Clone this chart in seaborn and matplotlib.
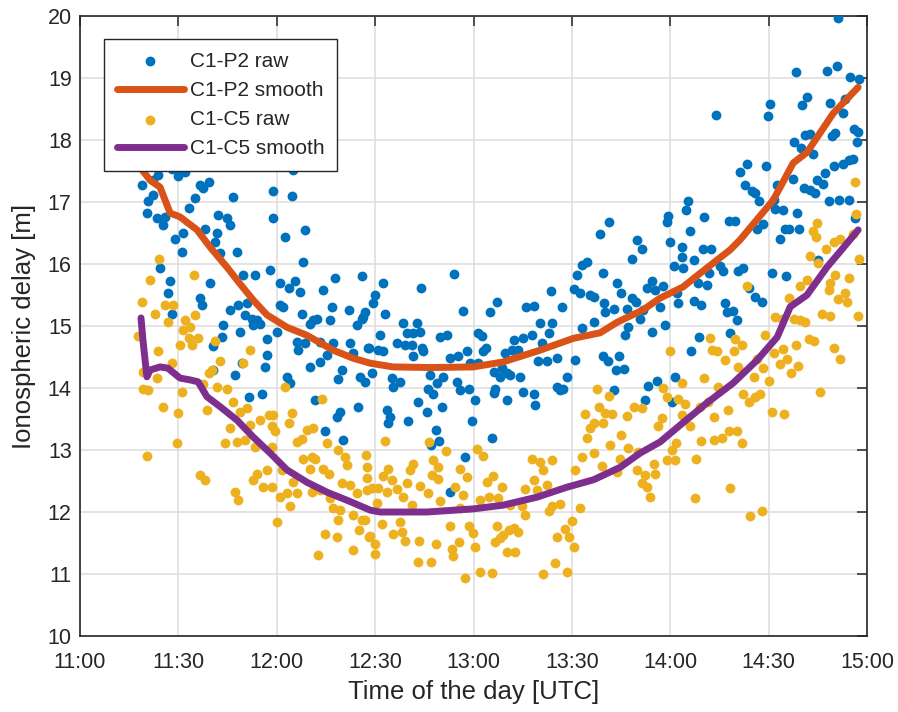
import numpy as np
import pandas as pd
import matplotlib
matplotlib.use("Agg")
import matplotlib.pyplot as plt
import seaborn as sns

# time in minutes after 11:00 UTC, delay in metres

# C1-P2 raw
p2_raw_t = [28.0, 32.0, 30.0, 23.9, 22.4, 18.8, 36.6, 39.2, 37.6, 65.1,
            59.0, 64.6, 46.8, 35.1, 22.4, 20.8, 20.3, 23.4, 25.9, 25.4,
            33.1, 42.2, 44.7, 45.8, 59.0, 68.6, 62.5, 38.1, 31.5, 29.0,
            31.0, 41.7, 41.2, 42.7, 47.8, 68.1, 58.0, 24.4, 27.5, 26.9,
            39.7, 49.8, 53.4, 61.0, 63.6, 65.6, 67.1, 74.2, 77.8, 36.6,
            28.0, 37.1, 45.8, 48.3, 50.8, 50.3, 52.4, 53.9, 54.9, 52.9,
            43.7, 43.2, 40.7, 48.8, 56.9, 60.0, 61.0, 62.0, 67.6, 71.2,
            70.2, 72.2, 76.3, 76.8, 81.9, 84.4, 86.4, 66.1, 66.6, 68.6,
            73.2, 77.3, 82.4, 83.4, 88.0, 56.9, 56.4, 70.2, 73.2, 75.3,
            79.8, 78.8, 85.4, 87.0, 40.7, 47.3, 49.3, 63.0, 64.1, 51.4,
            55.4, 71.7, 78.3, 79.3, 74.7, 80.3, 84.7,
            85.9, 92.5, 90.0, 89.5, 86.9, 85.9, 93.0, 104.0, 114.1, 98.6,
            102.7, 99.6, 101.7, 103.7, 91.5, 96.6, 99.1, 101.2, 87.9, 91.0,
            92.5, 104.2, 104.7, 101.7, 109.8, 111.8, 116.9, 112.7, 115.4, 117.9,
            121.5, 122.5, 123.8, 123.0, 125.1, 127.1, 119.0, 121.5, 129.6, 131.7,
            132.2, 135.2, 133.7, 136.0, 138.3, 137.8, 140.3, 140.8, 142.9, 143.9,
            143.6, 146.9, 139.8, 142.4, 145.4, 151.0, 150.5, 151.5, 153.0, 154.6,
            152.5, 155.6, 156.6, 153.0, 156.6, 89.0, 95.0, 95.6, 97.6, 106.8,
            108.8, 110.8, 106.2, 107.8, 114.9, 115.9, 118.5, 126.1, 128.1, 130.2,
            128.6, 131.2, 134.2, 126.6, 126.1, 120.5, 130.2, 135.2, 138.3, 138.8,
            145.4, 146.4, 147.4, 148.5, 103.2, 105.7, 110.3, 93.5, 94.6, 94.0,
            100.1, 108.6, 119.5, 109.6, 107.1, 125.6, 117.4, 112.9,
            231.3, 218.3, 227.8, 230.8, 234.7, 237.7, 193.9, 210.3, 209.9, 220.3,
            221.7, 228.8, 232.6, 233.4, 217.8, 219.9, 221.1, 222.5, 223.4, 229.3,
            230.3, 235.9, 237.4, 236.9, 232.8, 234.4, 235.6, 229.8, 227.3, 224.7,
            226.7, 220.8, 222.7, 224.2, 217.4, 201.3, 203.3, 209.2, 202.8, 204.9,
            205.9, 207.2, 212.5, 211.5, 212.0, 214.3, 218.8, 228.4, 231.6, 234.4,
            236.4, 185.3, 184.8, 179.4, 178.9, 185.9, 190.4, 197.8, 199.8, 206.4,
            208.4, 213.5, 215.0, 216.1, 219.4, 161.4, 158.6, 179.9, 169.8, 171.4,
            183.5, 189.9, 192.5,
            168.3, 183.5, 181.0, 184.0, 187.1, 191.7, 195.2, 196.2, 188.6, 191.1,
            200.8, 202.3, 211.0, 215.3, 225.2, 159.6, 163.9, 164.9, 174.4, 172.8,
            175.4, 177.9, 168.3, 169.6, 159.8, 160.1, 162.7, 166.9, 171.8, 176.9,
            182.0, 182.5, 187.3, 189.3, 196.7, 197.4, 199.1, 200.3, 203.9, 205.9,
            207.9, 170.8, 178.4, 167.2, 166.2, 174.4, 188.8, 198.3, 186.3, 159.4,
            161.1, 164.5, 163.5, 165.9, 181.5, 175.9, 173.3, 162.9, 172.3, 180.5]
p2_raw_v = [17.54, 17.49, 17.42, 17.44, 17.35, 17.27, 17.27, 17.33, 17.22, 17.52,
            17.17, 17.09, 17.08, 17.06, 17.11, 17.01, 16.82, 16.74, 16.76, 16.63,
            16.90, 16.79, 16.74, 16.63, 16.74, 16.55, 16.44, 16.57, 16.50, 16.41,
            16.20, 16.50, 16.36, 16.17, 16.20, 16.04, 15.90, 15.93, 15.72, 15.53,
            15.69, 15.82, 15.82, 15.69, 15.61, 15.72, 15.55, 15.58, 15.77, 15.45,
            15.20, 15.34, 15.26, 15.34, 15.37, 15.18, 15.12, 15.10, 15.04, 15.02,
            15.02, 14.83, 14.67, 14.90, 14.79, 14.91, 15.34, 15.31, 15.20, 15.10,
            15.04, 15.12, 15.10, 15.31, 15.26, 15.02, 15.15, 14.75, 14.61, 14.72,
            14.75, 14.73, 14.72, 14.56, 14.64, 14.53, 14.34, 14.34, 14.42, 14.53,
            14.29, 14.15, 14.18, 14.10, 14.29, 14.21, 14.40, 14.18, 14.08, 13.86,
            13.91, 13.81, 13.54, 13.62, 13.30, 13.16, 13.70,
            15.80, 15.70, 15.50, 15.37, 15.23, 15.12, 15.19, 15.61, 15.84, 15.05,
            15.05, 14.88, 14.89, 14.91, 14.86, 14.73, 14.69, 14.69, 14.64, 14.61,
            14.59, 14.64, 14.59, 14.52, 14.83, 14.86, 15.24, 14.48, 14.52, 14.60,
            14.88, 14.84, 14.64, 14.59, 15.23, 15.39, 14.41, 14.40, 14.56, 14.62,
            14.77, 14.80, 14.61, 15.31, 15.32, 14.86, 15.05, 14.72, 14.88, 15.05,
            15.56, 15.31, 14.43, 14.43, 14.48, 14.45, 15.59, 15.82, 15.98, 16.04,
            15.53, 15.50, 15.47, 14.96, 15.07, 14.24, 14.16, 14.02, 14.10, 14.21,
            14.08, 14.18, 13.99, 13.91, 14.10, 13.97, 13.98, 14.26, 14.18, 14.25,
            14.32, 14.21, 14.17, 13.98, 13.92, 13.81, 13.81, 13.94, 13.90, 13.73,
            14.02, 13.97, 13.99, 14.18, 13.78, 13.61, 13.70, 13.64, 13.54, 13.43,
            13.46, 13.33, 13.46, 13.15, 13.08, 13.20, 12.88, 12.33,
            19.96, 19.10, 19.12, 19.20, 19.01, 18.98, 18.40, 18.58, 18.39, 18.56,
            18.69, 18.60, 18.44, 18.66, 17.96, 17.87, 18.08, 18.09, 17.77, 18.06,
            18.11, 18.18, 18.13, 17.96, 17.62, 17.68, 17.70, 17.58, 17.47, 17.35,
            17.29, 17.23, 17.19, 17.14, 17.37, 17.49, 17.61, 17.58, 17.27, 17.18,
            17.14, 17.01, 17.27, 17.03, 16.88, 16.87, 16.83, 17.02, 17.03, 17.04,
            16.75, 17.02, 16.87, 16.77, 16.68, 16.54, 16.76, 16.70, 16.69, 16.56,
            16.65, 16.40, 16.56, 16.57, 16.56, 16.67, 16.49, 16.35, 16.38, 16.25,
            16.27, 16.24, 16.25,
            16.08, 16.12, 15.97, 15.93, 16.06, 15.85, 15.96, 15.88, 15.69, 15.66,
            15.89, 15.93, 15.86, 15.81, 16.06, 15.85, 15.69, 15.53, 15.72, 15.61,
            15.58, 15.64, 15.45, 15.39, 15.37, 15.23, 15.27, 15.28, 15.26, 15.31,
            15.53, 15.37, 15.41, 15.34, 15.37, 15.22, 15.25, 15.09, 15.62, 15.47,
            15.38, 15.11, 15.02, 14.98, 14.86, 14.91, 14.83, 14.89, 14.59, 14.51,
            14.43, 14.51, 14.29, 14.30, 14.18, 14.11, 14.03, 13.97, 13.80, 13.78]

# C1-P2 smooth
p2_smooth_t = [18.3, 21.4, 24.4, 27.5, 30.5, 35.7, 39.7, 44.8, 48.8, 52.8,
               57.0, 63.1, 69.2, 77.2, 83.3, 88.5, 95.5, 106.8, 119.9, 129.0,
               140.3, 150.4, 158.6, 163.8, 171.7, 176.9, 183.9, 189.1, 198.3, 201.3,
               211.4, 217.5, 221.7, 229.7, 237.3]
p2_smooth_v = [17.56, 17.35, 17.24, 16.82, 16.76, 16.55, 16.27, 15.95, 15.68, 15.42,
               15.18, 14.98, 14.85, 14.61, 14.48, 14.40, 14.34, 14.33, 14.34, 14.42,
               14.61, 14.80, 14.89, 15.06, 15.26, 15.45, 15.63, 15.85, 16.23, 16.39,
               17.03, 17.63, 17.80, 18.43, 18.85]

# C1-C5 raw
c5_raw_t = [24.2, 21.4, 34.8,
            18.8, 25.9, 28.5, 22.9, 26.9, 32.0, 35.1, 33.6, 31.5, 17.8,
            30.5, 33.1, 36.1, 34.1, 23.9, 41.2, 51.9, 42.7, 40.2, 39.2,
            28.0, 49.8, 19.3, 23.4, 19.3, 20.8, 37.6, 41.7, 44.7, 31.0,
            25.4, 30.0, 38.6, 46.8, 50.8, 48.8, 62.5, 73.7, 57.5, 59.0,
            64.6, 63.6, 45.8, 51.9, 54.9, 58.5, 59.5, 69.2, 71.2, 44.2,
            47.8, 50.3, 53.4, 58.5, 66.1, 67.6, 75.3, 78.8, 29.5, 20.3,
            36.6, 38.1, 52.9, 53.9, 56.9, 55.9, 58.5, 61.5, 65.1, 68.1,
            70.7, 71.7, 70.2, 74.2, 75.8, 79.8, 80.8, 81.3, 82.4, 87.5,
            87.5, 84.4, 70.7, 73.2, 47.3, 48.3, 61.0, 63.0, 66.1, 64.1,
            76.3, 77.3, 79.3, 78.8, 83.4, 86.9, 88.0, 85.2, 60.0, 74.7,
            78.3, 83.2, 72.7,
            93.0, 106.5, 87.2, 111.6, 121.0, 123.0, 94.0, 101.7, 100.7, 107.8,
            109.3, 115.9, 87.4, 92.5, 95.0, 107.3, 109.3, 117.9, 125.9, 124.0,
            137.8, 140.3, 143.9, 141.3, 89.0, 91.0, 93.5, 96.6, 99.6, 103.7,
            106.2, 98.6, 90.5, 114.4, 116.9, 122.0, 124.6, 127.6, 128.6, 135.7,
            138.3, 139.3, 142.4, 109.8, 101.2, 115.9, 131.2, 134.7, 135.7, 142.9,
            143.9, 146.4, 152.5, 150.0, 85.9, 92.0, 97.6, 95.6, 98.1, 88.4,
            90.0, 90.0, 99.1, 103.5, 108.6, 112.7, 118.5, 119.8, 120.5, 115.7,
            127.1, 129.1, 130.7, 132.2, 133.7, 126.6, 128.1, 130.2, 132.7, 113.4,
            113.7, 103.2, 106.9, 145.4, 149.0, 148.0, 150.5, 144.9, 148.5, 141.3,
            122.0, 125.6, 117.4, 151.0, 153.0, 156.6, 157.6, 154.0, 158.4, 156.6,
            155.6, 154.6,
            236.2, 236.7, 224.7, 223.4, 224.5, 235.7, 231.8, 229.8, 227.6,
            222.7, 225.2, 237.7, 230.3, 228.8, 234.4, 221.7, 219.6, 203.3, 228.3,
            233.4, 231.3, 233.9, 216.1, 226.2, 228.8, 237.4, 212.0, 214.0, 217.6,
            219.6, 221.1, 192.0, 199.8, 208.9, 201.8, 192.7, 194.2, 199.3, 180.0,
            222.2, 223.7, 229.8, 231.8, 218.4, 214.3, 211.5, 196.7, 206.4, 213.5,
            215.6, 218.9, 216.9, 200.8, 208.4, 205.4, 210.0, 190.3, 183.5, 177.9,
            194.7, 202.3, 203.9, 205.9, 207.4, 211.0, 214.8, 225.7, 161.4, 178.9,
            182.5, 184.5, 183.5, 189.1, 191.6, 193.4, 197.5, 168.8, 171.3, 166.9,
            160.1, 162.2, 159.6, 177.4, 176.4, 164.9, 161.7, 167.2, 170.3, 164.7,
            159.1, 163.7, 169.8, 172.3, 174.9, 175.4, 171.3, 172.8, 173.7, 180.5,
            181.8, 178.9, 181.5, 187.9, 186.1, 189.3, 193.2, 195.7, 197.8, 200.3,
            201.8, 187.6, 198.3, 204.4, 207.9]
c5_raw_v = [16.08, 15.74, 15.82,
            15.39, 15.34, 15.34, 15.20, 15.07, 15.10, 15.18, 14.99, 14.94, 14.84,
            14.69, 14.80, 14.80, 14.69, 14.59, 14.76, 14.61, 14.43, 14.29, 14.24,
            14.40, 14.40, 14.26, 14.16, 13.99, 13.97, 14.07, 14.02, 13.99, 13.94,
            13.70, 13.59, 13.64, 13.78, 13.67, 13.62, 14.02, 13.83, 13.56, 13.56,
            13.59, 13.44, 13.35, 13.40, 13.48, 13.38, 13.30, 13.32, 13.35, 13.11,
            13.13, 13.16, 13.05, 13.05, 13.13, 13.18, 13.11, 13.00, 13.11, 12.90,
            12.59, 12.52, 12.52, 12.62, 12.68, 12.41, 12.41, 12.68, 12.49, 12.86,
            12.89, 12.86, 12.70, 12.70, 12.62, 12.46, 12.89, 12.76, 12.43, 12.73,
            12.35, 12.30, 12.33, 12.35, 12.33, 12.20, 12.25, 12.30, 12.30, 12.10,
            12.22, 12.06, 12.03, 11.87, 11.95, 11.87, 11.60, 11.71, 11.84, 11.65,
            11.59, 11.38, 11.31,
            13.15, 13.13, 12.92, 12.98, 13.01, 12.90, 12.70, 12.78, 12.68, 12.84,
            12.73, 12.70, 12.55, 12.58, 12.52, 12.60, 12.53, 12.56, 12.58, 12.49,
            12.86, 12.81, 12.84, 12.68, 12.38, 12.38, 12.33, 12.37, 12.47, 12.42,
            12.31, 12.25, 12.15, 12.41, 12.27, 12.20, 12.25, 12.22, 12.40, 12.37,
            12.52, 12.36, 12.43, 12.17, 12.11, 12.06, 12.11, 12.09, 11.95, 12.01,
            12.09, 12.13, 12.06, 11.86, 11.87, 11.81, 11.84, 11.64, 11.68, 11.61,
            11.49, 11.33, 11.54, 11.54, 11.48, 11.77, 11.77, 11.66, 11.44, 11.51,
            11.77, 11.63, 11.71, 11.74, 11.68, 11.51, 11.58, 11.36, 11.36, 11.41,
            11.29, 11.20, 11.20, 11.60, 11.60, 11.72, 11.44, 11.17, 11.04, 11.00,
            11.04, 11.02, 10.93, 12.67, 12.89, 12.95, 13.98, 13.58, 13.70, 13.43,
            13.35, 13.19,
            17.33, 16.80, 16.66, 16.54, 16.44, 16.49, 16.40, 16.36, 16.25,
            16.13, 16.02, 16.08, 15.82, 15.70, 15.77, 15.75, 15.65, 15.64, 15.58,
            15.53, 15.43, 15.39, 15.45, 15.20, 15.16, 15.16, 15.15, 15.12, 15.12,
            15.09, 15.06, 14.80, 14.79, 14.85, 14.69, 14.61, 14.60, 14.60, 14.59,
            14.79, 14.76, 14.64, 14.46, 14.69, 14.63, 14.56, 14.45, 14.46, 14.39,
            14.46, 14.36, 14.24, 14.34, 14.32, 14.17, 14.12, 14.16, 14.08, 14.00,
            14.02, 13.90, 13.78, 13.86, 13.90, 13.62, 13.58, 13.93, 13.87, 13.86,
            13.83, 13.74, 13.56, 13.69, 13.78, 13.54, 13.64, 13.70, 13.67, 13.55,
            13.59, 13.58, 13.43, 13.51, 13.38, 13.24, 13.08, 13.03, 12.97, 12.86,
            12.74, 12.65, 12.67, 12.60, 12.78, 12.62, 12.46, 12.40, 12.25, 13.00,
            13.12, 12.84, 12.84, 12.85, 13.38, 13.15, 13.16, 13.19, 13.30, 13.30,
            13.12, 12.22, 12.38, 11.94, 12.02]

# C1-C5 smooth
c5_smooth_t = [18.6, 19.2, 20.4, 21.4, 24.4, 26.8, 30.5, 33.6, 36.0, 38.7,
               42.7, 47.9, 52.8, 58.0, 63.1, 69.2, 75.3, 81.4, 88.5, 91.5,
               105.8, 119.9, 129.0, 139.4, 148.5, 156.6, 164.7, 170.8, 176.9, 183.9,
               191.2, 199.2, 206.5, 212.6, 216.6, 221.7, 227.8, 231.8, 237.3]
c5_smooth_v = [15.13, 14.77, 14.18, 14.29, 14.34, 14.32, 14.16, 14.13, 14.10, 13.86,
               13.70, 13.48, 13.21, 12.95, 12.68, 12.48, 12.32, 12.19, 12.03, 12.00,
               12.00, 12.05, 12.11, 12.24, 12.40, 12.52, 12.72, 12.95, 13.13, 13.44,
               13.76, 14.08, 14.45, 14.82, 15.31, 15.50, 15.95, 16.20, 16.55]

tick_minutes = [0, 30, 60, 90, 120, 150, 180, 210, 240]
tick_labels = ['11:00', '11:30', '12:00', '12:30', '13:00', '13:30', '14:00', '14:30', '15:00']

blue = '#0072BD'
orange = '#D95319'
yellow = '#EDB120'
purple = '#7E2F8E'

sns.set_theme(style='white')
plt.rcParams['font.family'] = ['Liberation Sans', 'DejaVu Sans']

fig = plt.figure(figsize=(8.98, 7.12), dpi=100)
ax = fig.add_axes([80 / 898, 1 - 636 / 712, 787 / 898, 620 / 712])

sns.scatterplot(x=p2_raw_t, y=p2_raw_v, color=blue, s=50, linewidth=0,
                ax=ax, label='C1-P2 raw', zorder=3)
sns.lineplot(x=p2_smooth_t, y=p2_smooth_v, color=orange, lw=5, sort=False,
             estimator=None, ax=ax, label='C1-P2 smooth', zorder=4)
sns.scatterplot(x=c5_raw_t, y=c5_raw_v, color=yellow, s=50, linewidth=0,
                ax=ax, label='C1-C5 raw', zorder=5)
sns.lineplot(x=c5_smooth_t, y=c5_smooth_v, color=purple, lw=5, sort=False,
             estimator=None, ax=ax, label='C1-C5 smooth', zorder=6)

ax.set_xlim(0, 240)
ax.set_ylim(10, 20)
ax.set_xticks(tick_minutes)
ax.set_xticklabels(tick_labels)
ax.set_yticks(range(10, 21))
ax.grid(True, color='#dcdcdc', lw=1.1)
ax.set_axisbelow(True)
ax.tick_params(direction='in', length=7, width=1.1, top=True, right=True,
               labelsize=15.5, colors='#262626')
ax.tick_params(axis='x', pad=11.5)
ax.tick_params(axis='y', pad=6)
for sp in ax.spines.values():
    sp.set_color('#262626')
    sp.set_linewidth(1.2)

ax.set_xlabel('Time of the day [UTC]', fontsize=18.5, color='#262626', labelpad=5)
ax.set_ylabel('Ionospheric delay [m]', fontsize=18.5, color='#262626', labelpad=8)

leg = ax.legend(loc='upper left', bbox_to_anchor=(0.0305, 0.963), borderaxespad=0,
                fontsize=15, frameon=True, fancybox=False, handlelength=3.2,
                labelspacing=0.49, borderpad=0.62, handletextpad=0.3)
leg.get_frame().set_edgecolor('#262626')
leg.get_frame().set_linewidth(1.0)
leg.get_frame().set_alpha(1)

fig.savefig('out.png', dpi=100)
